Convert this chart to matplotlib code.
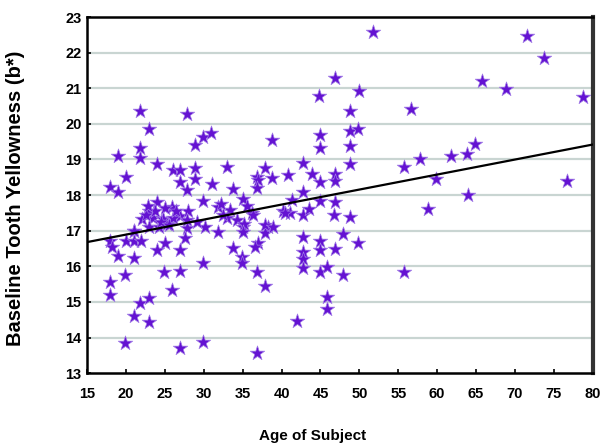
import matplotlib
matplotlib.use("Agg")
import matplotlib.pyplot as plt

# age of subject vs baseline b*
age = [18.0, 19.0, 19.0, 18.0, 18.2, 19.0, 18.0, 18.0, 20.0,
       20.0, 21.0, 22.0, 21.0, 21.0, 19.9, 21.8, 21.0, 19.9, 23.0, 23.0,
       21.8, 21.8, 21.8, 23.0, 24.0,
       24.0, 25.9, 23.0, 25.0, 22.1, 23.5, 24.8, 27.0, 23.0, 24.2, 25.3,
       27.8, 27.6, 21.0, 25.0, 24.0, 27.0, 24.9, 27.0, 25.9, 27.0,
       26.0, 27.0, 27.0, 27.8, 27.8, 28.9, 29.9, 30.9, 28.9, 28.9, 31.0,
       33.0, 33.8, 36.8, 37.0, 37.9, 38.8, 36.8, 38.8,
       29.9, 28.0, 31.8, 33.4, 35.0, 35.6, 36.2, 27.8, 30.2, 33.0, 34.3,
       35.0, 35.2, 38.3, 31.8, 35.0, 37.9, 33.8, 37.0, 36.6, 34.9, 34.9,
       29.9, 36.8, 37.9, 36.8, 29.9, 36.3, 37.9, 38.9,
       22.6, 23.8, 24.5, 26.0, 25.6, 22.9, 26.4, 32.5, 32.2, 29.2,
       40.2, 41.1, 42.7, 41.3, 40.8, 42.7, 42.7, 43.9, 44.9, 44.9, 46.9,
       46.9, 46.9, 46.8, 48.8, 44.9, 44.9, 44.8, 46.9, 48.8, 49.9, 48.8,
       49.8, 48.8, 48.8, 42.7, 44.9, 47.9, 49.8, 42.7, 44.9, 46.9, 42.7,
       42.7, 44.9, 45.9, 47.9, 45.8, 45.8, 42.0, 51.7, 40.5, 43.5,
       55.8, 57.8, 56.7, 58.8, 59.8, 55.8, 61.8, 63.8, 64.8, 63.9, 65.7,
       68.8, 71.6, 73.7, 76.7, 78.7]
yellowness = [18.22, 18.1, 19.1, 16.7, 16.55, 16.3, 15.56, 15.2, 18.5,
              16.7, 16.7, 16.7, 17.0, 16.23, 15.75, 14.97, 14.6, 13.84, 15.12, 14.43,
              20.36, 19.32, 19.04, 19.85, 18.88,
              17.8, 17.66, 17.55, 17.63, 17.32, 17.35, 17.33, 17.42, 17.1, 17.1, 17.2,
              17.07, 16.8, 17.0, 16.65, 16.45, 16.45, 15.84, 15.87, 15.33, 13.7,
              18.7, 18.7, 18.38, 18.14, 20.27, 19.4, 19.63, 19.74, 18.77, 18.46, 18.3,
              18.78, 18.18, 18.5, 18.42, 18.75, 18.48, 18.2, 19.55,
              17.83, 17.55, 17.66, 17.58, 17.9, 17.7, 17.5, 17.3, 17.1, 17.35, 17.3,
              17.1, 17.2, 17.1, 16.96, 16.97, 16.93, 16.52, 16.65, 16.55, 16.25, 16.09,
              16.08, 15.84, 15.45, 13.56, 13.87, 17.44, 17.16, 17.1,
              17.45, 17.55, 17.25, 17.35, 17.15, 17.7, 17.55, 17.45, 17.75, 17.25,
              17.55, 17.5, 17.44, 17.86, 18.56, 18.08, 18.9, 18.6, 18.36, 17.84, 17.8,
              18.6, 18.4, 17.44, 17.38, 19.7, 19.32, 20.78, 21.3, 20.36, 20.93, 19.8,
              19.85, 19.38, 18.88, 16.82, 16.7, 16.9, 16.65, 16.4, 16.45, 16.5, 16.2,
              15.95, 15.84, 15.97, 15.75, 15.14, 14.81, 14.46, 22.58, 17.5, 17.6,
              18.8, 19.0, 20.42, 17.62, 18.46, 15.84, 19.1, 19.15, 19.43, 18.0, 21.2,
              20.98, 22.47, 21.85, 18.4, 20.75]

# trend line end points
trend_x = [15, 80]
trend_y = [16.68, 19.42]

x_ticks = list(range(15, 81, 5))
y_ticks = list(range(13, 24))

plt.rcParams['font.family'] = ['Liberation Sans', 'DejaVu Sans']

fig = plt.figure(figsize=(6, 4.48), dpi=100)
ax = fig.add_axes([0.145, 0.167, 0.843, 0.795])

#gridlines first so stars sit on top
for y in y_ticks[1:-1]:
    ax.axhline(y, color='#c9d5d2', lw=1.6, zorder=1)

ax.scatter(age, yellowness, marker='*', s=120, color='#6412d2',
           edgecolors='#a07ae6', linewidths=0.5, zorder=3)
ax.plot(trend_x, trend_y, color='black', lw=1.6, zorder=4)

ax.set_xlim(15, 80)
ax.set_ylim(13, 23)
ax.set_xticks(x_ticks)
ax.set_yticks(y_ticks)
ax.tick_params(axis='both', length=3, width=1.2, direction='in', labelsize=10.5)
ax.tick_params(axis='x', pad=10)
ax.tick_params(axis='y', pad=4)
for lab in ax.get_xticklabels() + ax.get_yticklabels():
    lab.set_fontweight('bold')

for side in ['left', 'bottom', 'top']:
    ax.spines[side].set_linewidth(1.8)
    ax.spines[side].set_color('black')
ax.spines['right'].set_linewidth(3)
ax.spines['right'].set_color('#333333')

ax.set_xlabel('Age of Subject', fontsize=11, fontweight='bold')
ax.set_ylabel('Baseline Tooth Yellowness (b*)', fontsize=14.5, fontweight='bold')
ax.xaxis.set_label_coords(0.445, -0.158)
ax.yaxis.set_label_coords(-0.122, 0.49)

fig.savefig('out.png', dpi=100)
